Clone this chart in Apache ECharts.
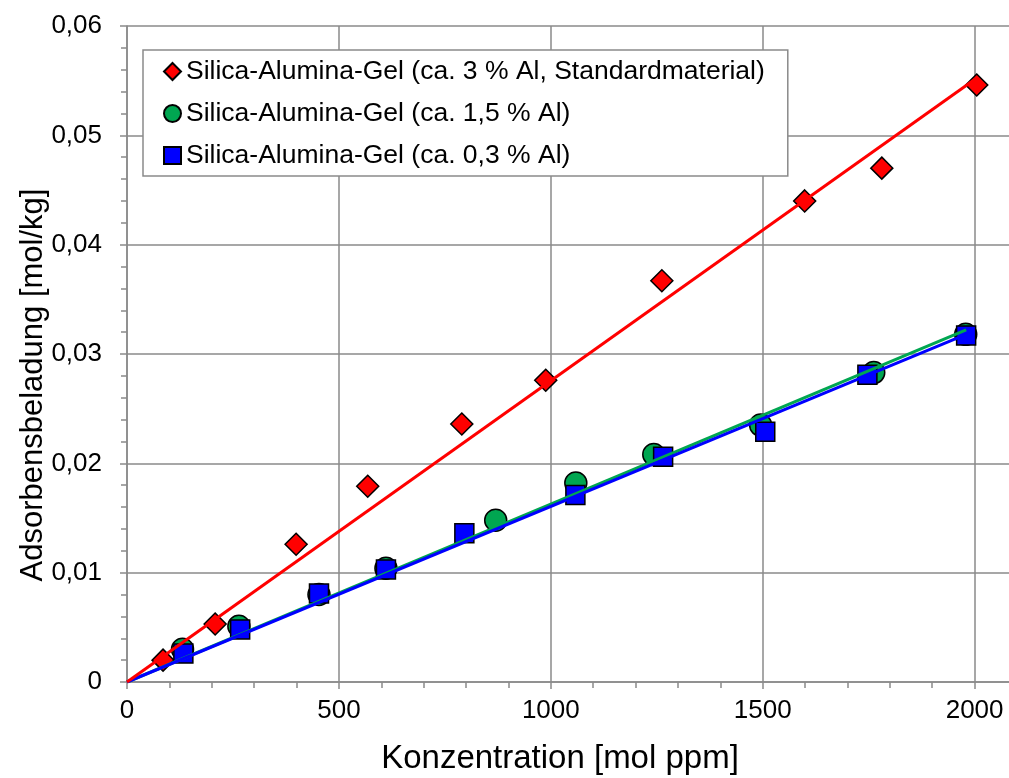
<!DOCTYPE html>
<html>
<head>
<meta charset="utf-8">
<script src="https://cdn.jsdelivr.net/npm/echarts@6/dist/echarts.min.js"></script>
<style>
  html, body { margin: 0; padding: 0; background: #fff; overflow: hidden; }
  /* plot frame runs past the right edge of the picture, so the div is wider than the window */
  #chart { width: 1030px; height: 778px; }
</style>
</head>
<body>
<div id="chart"></div>
<script>
// measured points (x in mol ppm, y in mol/kg)
const redX = [85, 208, 399, 568, 790, 988, 1262, 1599, 1781, 2005]
const redY = [0.0020, 0.0053, 0.0126, 0.0179, 0.0236, 0.0276, 0.0367, 0.0440, 0.0470, 0.0546]
const greenX = [131, 264, 453, 611, 870, 1059, 1243, 1495, 1762, 1979]
const greenY = [0.0030, 0.0051, 0.0080, 0.0104, 0.0148, 0.0182, 0.0208, 0.0235, 0.0283, 0.0318]
const blueX = [133, 267, 453, 611, 796, 1058, 1265, 1506, 1747, 1980]
const blueY = [0.0026, 0.0048, 0.0081, 0.0103, 0.0136, 0.0171, 0.0206, 0.0229, 0.0281, 0.0317]

// trend lines (start / end)
const redFitX = [0, 2000]
const redFitY = [0, 0.0551]
const greenFitX = [0, 1980]
const greenFitY = [0, 0.0322]
const blueFitX = [0, 1980]
const blueFitY = [0, 0.0318]

const names = [
  'Silica-Alumina-Gel (ca. 3 % Al, Standardmaterial)',
  'Silica-Alumina-Gel (ca. 1,5 % Al)',
  'Silica-Alumina-Gel (ca. 0,3 % Al)'
]
const xTitle = 'Konzentration [mol ppm]'
const yTitle = 'Adsorbensbeladung [mol/kg]'

const font = 'Arial, "Liberation Sans", sans-serif'
const gridGray = '#8a8a8a'

function pairs(xs, ys) {
  return xs.map((x, i) => [x, ys[i]])
}

function fitLine(xs, ys, color) {
  return {
    type: 'line',
    data: pairs(xs, ys),
    showSymbol: false,
    silent: true,
    lineStyle: { color: color, width: 3 }
  }
}

function points(name, xs, ys, symbol, size, color) {
  return {
    name: name,
    type: 'scatter',
    symbol: symbol,
    symbolSize: size,
    data: pairs(xs, ys),
    itemStyle: { color: color, borderColor: '#000', borderWidth: 1.5, opacity: 1 }
  }
}

const chart = echarts.init(document.getElementById('chart'))
chart.setOption({
  animation: false,
  backgroundColor: '#fff',
  textStyle: { fontFamily: font },
  grid: { left: 127, top: 26, width: 890, bottom: 96 },
  graphic: [
    {
      type: 'text',
      x: 560,
      y: 759,
      style: { text: xTitle, fontSize: 33, fontFamily: font, fill: '#000', align: 'center', verticalAlign: 'middle' }
    },
    {
      type: 'text',
      x: 33,
      y: 385,
      rotation: Math.PI / 2,
      style: { text: yTitle, fontSize: 31, fontFamily: font, fill: '#000', align: 'center', verticalAlign: 'middle' }
    }
  ],
  legend: {
    orient: 'vertical',
    left: 143,
    top: 50,
    data: names,
    padding: [8, 23, 7, 20],
    itemGap: 15,
    itemWidth: 17,
    itemHeight: 17,
    backgroundColor: '#fff',
    borderColor: gridGray,
    borderWidth: 1.5,
    borderRadius: 0,
    textStyle: { fontSize: 26.5, color: '#000', fontFamily: font }
  },
  xAxis: {
    type: 'value',
    min: 0,
    max: 2100,
    interval: 500,
    axisLine: { lineStyle: { color: gridGray, width: 1.5 } },
    axisTick: { show: true, length: 7, lineStyle: { color: gridGray, width: 1.5 } },
    minorTick: { show: true, splitNumber: 5, length: 6, lineStyle: { color: gridGray, width: 1.5 } },
    axisLabel: {
      fontSize: 26,
      color: '#000',
      margin: 16,
      showMaxLabel: false,
      fontFamily: font,
      formatter: v => String(v)
    },
    splitLine: { show: true, lineStyle: { color: gridGray, width: 1.5 } }
  },
  yAxis: {
    type: 'value',
    min: 0,
    max: 0.06,
    interval: 0.01,
    axisLine: { show: true, lineStyle: { color: gridGray, width: 1.5 } },
    axisTick: { show: true, length: 7, lineStyle: { color: gridGray, width: 1.5 } },
    minorTick: { show: true, splitNumber: 5, length: 6, lineStyle: { color: gridGray, width: 1.5 } },
    axisLabel: {
      fontSize: 26,
      color: '#000',
      margin: 25,
      fontFamily: font,
      formatter: v => v === 0 ? '0' : v.toFixed(2).replace('.', ',')
    },
    splitLine: { show: true, lineStyle: { color: gridGray, width: 1.5 } }
  },
  series: [
    fitLine(greenFitX, greenFitY, '#00A651'),
    fitLine(blueFitX, blueFitY, '#0000FF'),
    fitLine(redFitX, redFitY, '#FF0000'),
    points(names[0], redX, redY, 'diamond', 22, '#FF0000'),
    points(names[1], greenX, greenY, 'circle', 22, '#00A651'),
    points(names[2], blueX, blueY, 'rect', 19, '#0000FF')
  ]
})
</script>
</body>
</html>
